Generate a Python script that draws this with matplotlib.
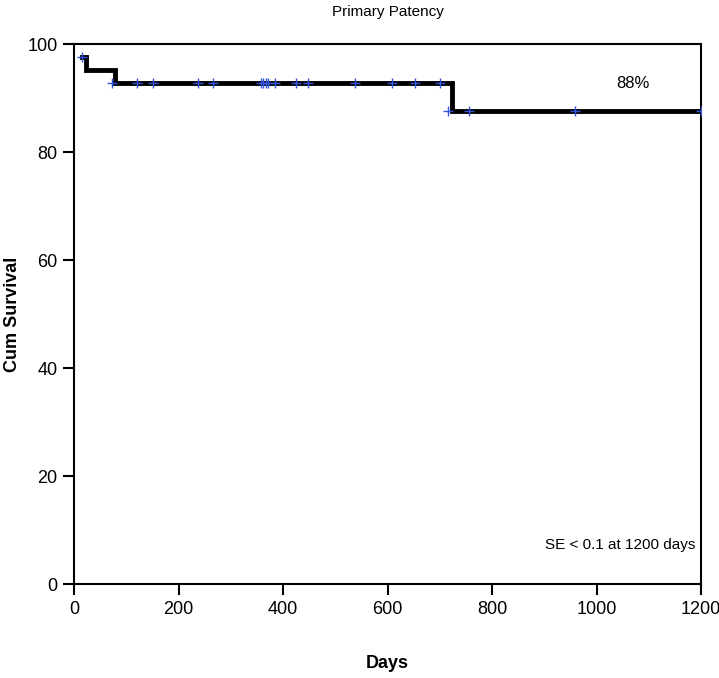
import matplotlib.pyplot as plt
import numpy as np

plt.rcParams['font.family'] = ['Liberation Sans', 'DejaVu Sans']

# Kaplan-Meier step data (days, cumulative survival %)
step_days = [15, 22, 78, 724, 1200]
step_surv = [97.6, 95.1, 92.7, 87.6, 87.6]

# censored observations
cens_days = [15, 72, 120, 152, 237, 265, 358, 362, 367, 372, 385, 425, 447,
             537, 609, 653, 700, 715, 755, 958, 1200]
cens_surv = [97.6, 92.7, 92.7, 92.7, 92.7, 92.7, 92.7, 92.7, 92.7, 92.7, 92.7,
             92.7, 92.7, 92.7, 92.7, 92.7, 92.7, 87.6, 87.6, 87.6, 87.6]

xticks = [0, 200, 400, 600, 800, 1000, 1200]
yticks = [0, 20, 40, 60, 80, 100]

fig = plt.figure(figsize=(7.19, 6.78), dpi=100)
ax = fig.add_axes([0.103, 0.1386, 0.872, 0.7965])

ax.step(step_days, step_surv, where='post', color='black', linewidth=3.5,
        solid_joinstyle='miter', zorder=2)
ax.plot(cens_days, cens_surv, linestyle='none', marker='+', color='#3355dd',
        markersize=7, markeredgewidth=1.0, zorder=3)

ax.set_xlim(0, 1200)
ax.set_ylim(0, 100)
ax.set_xticks(xticks)
ax.set_yticks(yticks)
ax.tick_params(direction='out', length=8, width=1.5, labelsize=13, pad=4)
for s in ax.spines.values():
    s.set_linewidth(1.5)

ax.text(1070, 92.6, '88%', fontsize=12, ha='center', va='center')
ax.text(1045, 7.2, 'SE < 0.1 at 1200 days', fontsize=11, ha='center', va='center')

ax.set_title('Primary Patency', fontsize=11, pad=20)
ax.set_xlabel('Days', fontsize=13, fontweight='bold')
ax.set_ylabel('Cum Survival', fontsize=13, fontweight='bold')
ax.xaxis.set_label_coords(0.5, -0.131)
ax.yaxis.set_label_coords(-0.084, 0.5)

fig.savefig('out.png', dpi=100)
